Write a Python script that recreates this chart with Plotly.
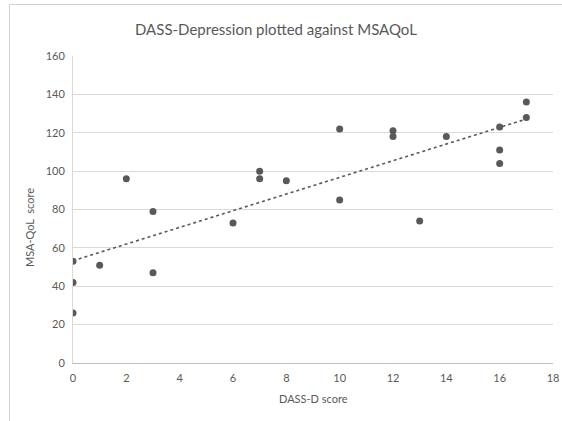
import numpy as np
import plotly.graph_objects as go

dass_d = [0, 0, 0, 1, 2, 3, 3, 6, 7, 7, 8, 10, 10, 12, 12, 13, 14, 16, 16, 16, 17, 17]
msaqol = [53, 42, 26, 51, 96, 79, 47, 73, 100, 96, 95, 122, 85, 121, 118, 74, 118, 123, 111, 104, 136, 128]

x_ticks = [0, 2, 4, 6, 8, 10, 12, 14, 16, 18]
y_ticks = [0, 20, 40, 60, 80, 100, 120, 140, 160]

title_text = "DASS-Depression plotted against MSAQoL"
x_title = "DASS-D score"
y_title = "MSA-QoL  score"

slope, intercept = np.polyfit(dass_d, msaqol, 1)
tx = [min(dass_d), max(dass_d)]
ty = [intercept + slope * v for v in tx]

FONT = "Lato"
GREY = "#595959"

fig = go.Figure()
fig.add_trace(go.Scatter(x=tx, y=ty, mode="lines",
                         line=dict(color=GREY, width=1.6, dash="dot"),
                         hoverinfo="skip", showlegend=False))
fig.add_trace(go.Scatter(x=dass_d, y=msaqol, mode="markers",
                         marker=dict(color=GREY, size=7),
                         showlegend=False))

W, H = 562, 421
L, R, T, B = 73, 9, 56, 58
pw, ph = W - L - R, H - T - B

def px2x(px):
    return (px - L) / pw

def py2y(py):
    return (H - B - py) / ph

fig.update_layout(
    width=W, height=H,
    margin=dict(l=L, r=R, t=T, b=B, autoexpand=False),
    paper_bgcolor="white", plot_bgcolor="white",
    font=dict(family=FONT, color=GREY, size=11),
    xaxis=dict(range=[0, 18], tickvals=x_ticks, showgrid=False, zeroline=False,
               showline=True, linecolor="#bfbfbf", linewidth=1,
               ticks="", ticklen=0, ticklabelstandoff=5,
               tickfont=dict(size=11, color=GREY, family=FONT)),
    yaxis=dict(range=[0, 160], tickvals=y_ticks, showgrid=True, gridcolor="#d9d9d9",
               gridwidth=1, zeroline=False, showline=True, linecolor="#d9d9d9",
               linewidth=1, ticks="", ticklen=0, ticklabelstandoff=5,
               tickfont=dict(size=11, color=GREY, family=FONT)),
    shapes=[dict(type="rect", xref="paper", yref="paper",
                 x0=px2x(9.5), x1=px2x(575), y0=py2y(430), y1=py2y(4.5),
                 line=dict(color="#d0d0d0", width=1), fillcolor="rgba(0,0,0,0)",
                 layer="below")],
    annotations=[
        dict(text=title_text, xref="paper", yref="paper", x=px2x(276), y=py2y(29),
             showarrow=False, xanchor="center", yanchor="middle",
             font=dict(size=15, color=GREY, family=FONT)),
        dict(text=x_title, xref="paper", yref="paper", x=px2x(313), y=py2y(398),
             showarrow=False, xanchor="center", yanchor="middle",
             font=dict(size=11, color=GREY, family=FONT)),
        dict(text=y_title, xref="paper", yref="paper", x=px2x(29), y=py2y(228),
             showarrow=False, xanchor="center", yanchor="middle", textangle=-90,
             font=dict(size=11, color=GREY, family=FONT)),
    ],
)

fig.write_html("out.html", config={"displayModeBar": False},
               post_script="document.body.style.margin='0';document.body.style.overflow='hidden';")
